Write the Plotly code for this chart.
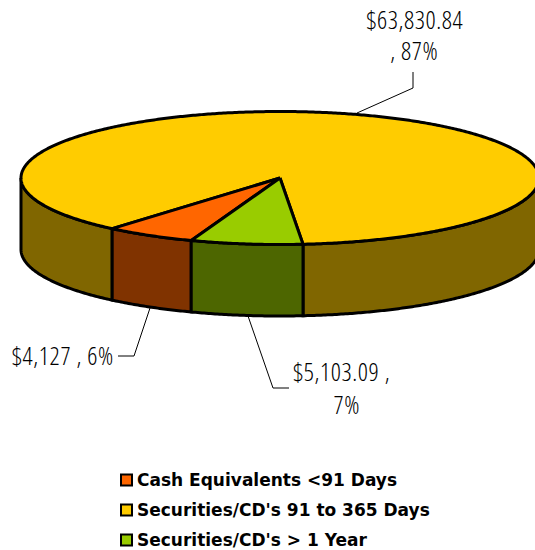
import math
import plotly.graph_objects as go

# Data
categories = ["Cash Equivalents <91 Days", "Securities/CD's 91 to 365 Days", "Securities/CD's > 1 Year"]
values = [4127.0, 63830.84, 5103.09]
value_labels = ["$4,127 , 6%", "$63,830.84", ", 87%", "$5,103.09 ,<br>\u00a0\u00a07%"]

# Styles
top_colors = ["#FF6600", "#FFCC00", "#99CC00"]
side_colors = ["#803300", "#806600", "#4D6600"]
W, H = 535, 550
CX, CY, RX, RY, DEPTH = 280, 178, 259, 66.5, 71.5
GREEN_END = -5.1  # degrees, parametric angle of the first slice boundary from the bottom
LW = 3

total = sum(values)


def pt(deg, dz=0.0):
    a = math.radians(deg)
    return CX - RX * math.sin(a), CY + RY * math.cos(a) + dz


def arc(a0, a1, dz=0.0):
    n = max(2, int(abs(a1 - a0) * 2))
    return [pt(a0 + (a1 - a0) * i / n, dz) for i in range(n + 1)]


order = [2, 0, 1]
spans = {}
start = GREEN_END
for i in order:
    sweep = 360 * values[i] / total
    spans[i] = (start, start + sweep)
    start += sweep

fig = go.Figure()


def poly(points, fill, group):
    fig.add_trace(go.Scatter(
        x=[p[0] for p in points] + [points[0][0]],
        y=[p[1] for p in points] + [points[0][1]],
        mode="lines", fill="toself", fillcolor=fill,
        line=dict(color="#000000", width=LW, simplify=False),
        hoverinfo="skip", showlegend=False, legendgroup=group,
    ))


for i in [1, 0, 2]:
    a0, a1 = spans[i]
    for lo, hi in [(-90, 90), (270, 450)]:
        s, e = max(a0, lo), min(a1, hi)
        if e > s:
            poly(arc(s, e) + arc(e, s, DEPTH), side_colors[i], categories[i])

for i in [1, 0, 2]:
    a0, a1 = spans[i]
    poly([(CX, CY)] + arc(a0, a1), top_colors[i], categories[i])

leaders = [
    [(150, 308), (134, 356), (118, 356)],
    [(357, 113), (413, 88), (413, 72)],
    [(248, 316), (273, 388), (289, 388)],
]
for pts in leaders:
    fig.add_trace(go.Scatter(
        x=[p[0] for p in pts], y=[p[1] for p in pts], mode="lines",
        line=dict(color="#000000", width=1), hoverinfo="skip", showlegend=False,
    ))

# value labels come first so they hold the lowest annotation indexes
label_pos = [(63, 355), (415, 19), (414, 50), (341, 387)]
for text, (x, y) in zip(value_labels, label_pos):
    fig.add_annotation(x=x, y=y, text=text, showarrow=False, xanchor="center", yanchor="middle",
                       font=dict(family="Open Sans", size=25, color="#000000", weight=300))

# legend: swatch + bold text rows
legend_y = [480, 510, 540]
for i, name in enumerate(categories):
    fig.add_trace(go.Scatter(
        x=[126.5], y=[legend_y[i]], mode="markers", name=name,
        marker=dict(symbol="square", size=11, color=top_colors[i],
                    line=dict(color="#000000", width=2)),
        hoverinfo="skip", showlegend=False,
    ))
    fig.add_annotation(x=135, y=legend_y[i], text=name, showarrow=False, xanchor="left", yanchor="middle",
                       font=dict(family="DejaVu Sans", size=17, color="#000000", weight="bold"))

fig.update_layout(
    width=W, height=H, autosize=False,
    margin=dict(l=0, r=0, t=0, b=0),
    paper_bgcolor="#FFFFFF", plot_bgcolor="#FFFFFF",
    xaxis=dict(range=[0, W], visible=False, fixedrange=True),
    yaxis=dict(range=[H, 0], visible=False, fixedrange=True),
    showlegend=False,
)
css = ",".join(f'.annotation[data-index="{k}"] .annotation-text' for k in range(len(value_labels)))
fig.write_html("out.html", config={"displayModeBar": False},
               post_script="document.body.style.margin='0';var s=document.createElement('style');"
                           "s.textContent='" + css + "{font-stretch:75% !important;letter-spacing:0.6px}';"
                           "document.head.appendChild(s);")
